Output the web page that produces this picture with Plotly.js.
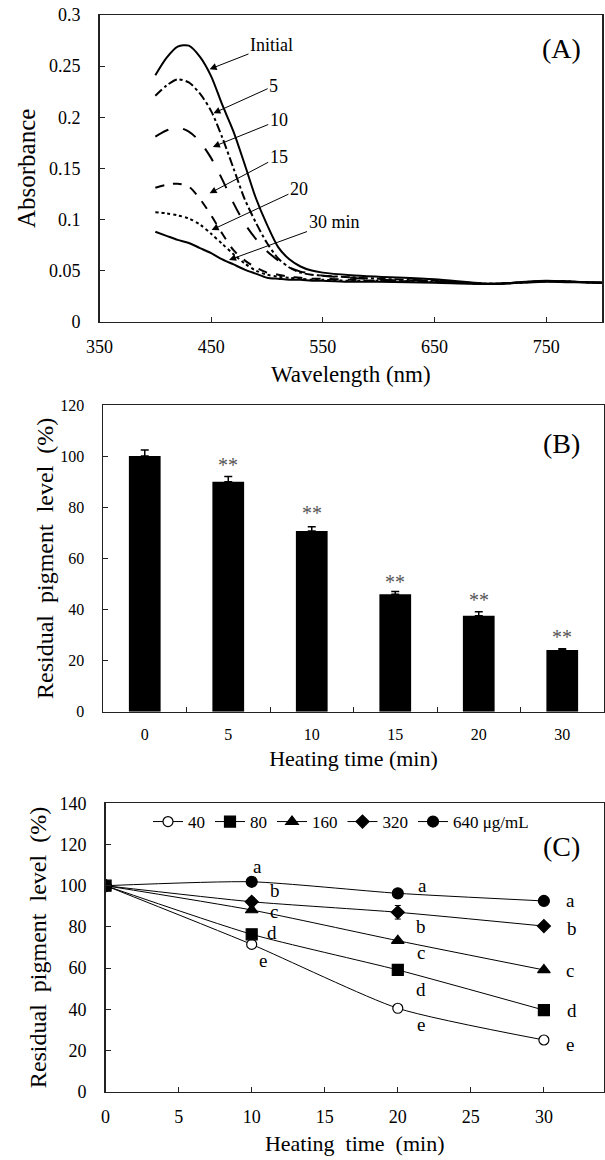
<!DOCTYPE html>
<html><head><meta charset="utf-8">
<script src="https://cdn.plot.ly/plotly-3.0.1.min.js"></script>
<style>html,body{margin:0;padding:0;background:#fff}#chart{width:605px;height:1160px}</style>
</head><body><div id="chart"></div>
<script>
// ---------- Panel A: absorbance spectra ----------
const wavelength = [400,410,420,430,440,450,460,470,480,490,500,510,520,530,540,550,575,600,650,700,725,750,775,800];
const absInitial = [0.241,0.258,0.269,0.270,0.259,0.240,0.212,0.186,0.154,0.121,0.095,0.073,0.061,0.054,0.050,0.048,0.0455,0.044,0.0415,0.037,0.0385,0.040,0.039,0.038];
const abs5  = [0.221,0.231,0.237,0.234,0.223,0.206,0.180,0.150,0.120,0.097,0.077,0.062,0.053,0.048,0.046,0.045,0.0435,0.042,0.040,0.037,0.0383,0.0398,0.039,0.038];
const abs10 = [0.181,0.187,0.190,0.186,0.176,0.160,0.139,0.116,0.096,0.081,0.069,0.060,0.053,0.049,0.047,0.045,0.043,0.041,0.040,0.037,0.0382,0.0397,0.039,0.038];
const abs15 = [0.131,0.134,0.135,0.132,0.120,0.104,0.086,0.070,0.060,0.053,0.048,0.046,0.044,0.043,0.042,0.042,0.041,0.040,0.039,0.037,0.038,0.0395,0.039,0.038];
const abs20 = [0.107,0.106,0.104,0.101,0.095,0.086,0.076,0.066,0.057,0.050,0.046,0.044,0.043,0.042,0.041,0.041,0.040,0.040,0.039,0.037,0.038,0.0395,0.039,0.038];
const abs30 = [0.088,0.084,0.080,0.077,0.072,0.067,0.061,0.056,0.051,0.047,0.043,0.042,0.041,0.041,0.040,0.040,0.039,0.039,0.038,0.037,0.038,0.039,0.0385,0.038];
const spectraLabels = ["Initial","5","10","15","20","30 min"];
const labelPos = [[504,0.2707],[506,0.2306],[510.5,0.197],[510.5,0.1614],[528.6,0.1295],[560,0.0978]];
const arrowHead = [[448.6,0.247],[452,0.2039],[451.5,0.171],[448.6,0.1256],[450.4,0.0897],[466,0.0604]];

// ---------- Panel B: residual pigment bars ----------
const heatCats = ["0","5","10","15","20","30"];
const residual = [100,90,70.7,46,37.5,24.1];
const residualErr = [2.4,2.0,1.7,1.0,1.6,0.5];
const starY = [null,96.5,77.6,50.8,43.7,29.1];

// ---------- Panel C: concentration series ----------
const timeC = [0,10,20,30];
const c40  = [100,71.5,40.5,25.1];
const c80  = [100,76.4,59.1,39.6];
const c160 = [100,88.2,73.3,59.1];
const c320 = [100,92.2,87.1,80.4];
const c320Err = [0,2.0,3.3,1.0];
const c640 = [100,101.9,96.3,92.6];
const concNames = ["40","80","160","320","640 μg/mL"];
const letterText = ["a","a","a","b","b","b","c","c","c","d","d","d","e","e","e"];
const letterX = [10.4,21.7,31.8,11.6,21.6,31.9,11.5,21.6,31.8,11.4,21.6,31.9,10.8,21.6,31.8];
const letterY = [109.5,100.3,93,97.8,80.4,79.3,87.3,67.5,58.7,77.2,49.4,39.3,63.9,32.4,22.7];

const F = "'Liberation Serif', 'Times New Roman', Times, serif";
const traces = [];
const dashes = ["solid","dashdot","longdash","dash","dot","solid"];
[absInitial,abs5,abs10,abs15,abs20,abs30].forEach((arr,i)=>{
  traces.push({x:wavelength,y:arr,type:"scatter",mode:"lines",xaxis:"x",yaxis:"y",
    line:{color:"#000",width:2,dash:dashes[i],shape:"spline",smoothing:0.8},showlegend:false,hoverinfo:"skip"});
});
traces.push({x:heatCats,y:residual,type:"bar",xaxis:"x2",yaxis:"y2",width:0.38,
  marker:{color:"#000"},showlegend:false,
  error_y:{type:"data",array:residualErr,arrayminus:residualErr.map(()=>0),symmetric:false,color:"#000",thickness:1.5,width:4}});
const syms = ["circle-open","square","triangle-up","diamond","circle"];
const sizes = [10,11,11,10,11];
[c40,c80,c160,c320,c640].forEach((arr,i)=>{
  const t = {x:timeC,y:arr,type:"scatter",mode:"lines+markers",xaxis:"x3",yaxis:"y3",name:concNames[i],
    line:{color:"#000",width:1,shape:"spline",smoothing:0.6},
    marker:{symbol:syms[i],size:sizes[i],color:"#000",line:{color:"#000",width:1.2}}};
  if(i===0){t.marker.color="#fff";t.marker.symbol="circle";}
  if(i===3){t.error_y={type:"data",array:c320Err,color:"#000",thickness:1,width:3};}
  traces.push(t);
});

const ann = [];
spectraLabels.forEach((s,i)=>{
  ann.push({xref:"x",yref:"y",axref:"x",ayref:"y",x:arrowHead[i][0],y:arrowHead[i][1],
    ax:labelPos[i][0],ay:labelPos[i][1],text:s,showarrow:true,arrowhead:2,arrowsize:1.4,arrowwidth:1,
    arrowcolor:"#000",font:{family:F,size:18,color:"#000"},standoff:0});
});
heatCats.forEach((c,i)=>{
  if(starY[i]!==null) ann.push({xref:"x2",yref:"y2",x:i,y:starY[i],text:"**",showarrow:false,
    xanchor:"center",yanchor:"middle",font:{family:F,size:20,color:"#555"}});
});
letterText.forEach((s,i)=>{
  ann.push({xref:"x3",yref:"y3",x:letterX[i],y:letterY[i],text:s,showarrow:false,borderpad:0,
    xanchor:"center",yanchor:"middle",font:{family:F,size:19,color:"#000"}});
});
[["(A)",49],["(B)",443],["(C)",846]].forEach(p=>{
  ann.push({xref:"paper",yref:"paper",x:561/605,y:(1160-p[1])/1160,text:p[0],showarrow:false,
    xanchor:"center",yanchor:"middle",font:{family:F,size:28,color:"#000"}});
});

const ax = (o)=>Object.assign({showline:true,mirror:true,linecolor:"#222",linewidth:1.5,ticks:"inside",ticklen:5,
  tickcolor:"#222",showgrid:false,zeroline:false},o);
const layout = {
  width:605,height:1160,margin:{l:0,r:0,t:0,b:0},paper_bgcolor:"#fff",plot_bgcolor:"#fff",
  font:{family:F,color:"#000"},
  xaxis:ax({domain:[99.5/605,602/605],range:[350,800],tick0:350,dtick:100,anchor:"y",
    tickfont:{size:18},ticklabelstandoff:8,title:{text:"Wavelength (nm)",font:{size:23},standoff:10}}),
  yaxis:ax({domain:[(1160-321.7)/1160,(1160-15)/1160],range:[0,0.3],dtick:0.05,anchor:"x",
    tickfont:{size:18},ticklabelstandoff:14,title:{text:"Absorbance",font:{size:25},standoff:6}}),
  xaxis2:ax({domain:[103/605,604/605],type:"category",range:[-0.5,5.5],anchor:"y2",tickson:"boundaries",
    tickfont:{size:16},ticklabelstandoff:8,title:{text:"Heating time (min)",font:{size:22},standoff:8}}),
  yaxis2:ax({domain:[(1160-711.7)/1160,(1160-405)/1160],range:[0,120],dtick:20,anchor:"x2",
    tickfont:{size:16},ticklabelstandoff:14,title:{text:"Residual  pigment  level  (%)",font:{size:24},standoff:0}}),
  xaxis3:ax({domain:[105.6/605,603.8/605],range:[0,34.1],dtick:5,anchor:"y3",
    tickfont:{size:18},ticklabelstandoff:8,title:{text:"Heating  time  (min)",font:{size:22},standoff:10}}),
  yaxis3:ax({domain:[(1160-1091.7)/1160,(1160-803.3)/1160],range:[0,140],dtick:20,anchor:"x3",
    tickfont:{size:18},ticklabelstandoff:14,title:{text:"Residual  pigment  level  (%)",font:{size:24},standoff:6}}),
  showlegend:true,
  legend:{orientation:"h",x:148/605,xanchor:"left",y:(1160-822)/1160,yanchor:"middle",bgcolor:"rgba(0,0,0,0)",
    font:{family:F,size:17},itemwidth:30,tracegroupgap:0},
  bargap:0.62,
  annotations:ann
};
Plotly.newPlot("chart",traces,layout,{displayModeBar:false,staticPlot:true});
</script></body></html>
